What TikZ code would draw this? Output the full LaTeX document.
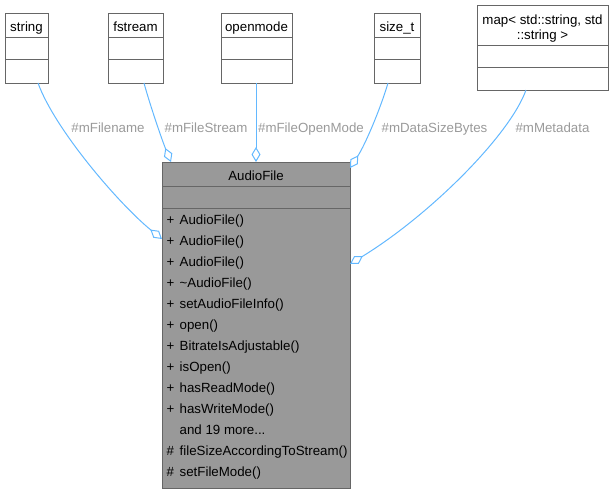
\documentclass[tikz,border=0pt]{standalone}
\usepackage{fontspec}
\setmainfont{Liberation Sans}
\usetikzlibrary{arrows.meta}
\definecolor{edgec}{HTML}{63B8FF}
\definecolor{lblc}{HTML}{9A9A9A}
\definecolor{bordc}{HTML}{666666}
\definecolor{clsc}{HTML}{999999}
\newcommand\moremethods{and 19 more...}
\begin{document}
\begin{tikzpicture}[x=1pt,y=-1pt,
  box/.style={draw=bordc, line width=1pt, inner sep=0pt, outer sep=0pt, anchor=north west},
  divider/.style={draw=bordc, line width=1pt},
  txt/.style={font=\fontsize{13.3}{15}\selectfont, inner sep=0pt, text height=9.5pt, text depth=2.5pt},
  lab/.style={txt, text=lblc},
  agg/.style={draw=edgec, line width=1pt, {Diamond[open,length=15pt,width=9pt]}-}]
\useasboundingbox (0,0) rectangle (614,493);

% small class boxes
\node[box, minimum width=43pt, minimum height=70pt] (string) at (5,13) {};
\draw[divider] (5,37) -- (48,37) (5,59) -- (48,59);
\node[txt] (stringT) at (26.5,27.5) {string};

\node[box, minimum width=55pt, minimum height=70pt] (fstream) at (108,13) {};
\draw[divider] (108,37) -- (163,37) (108,59) -- (163,59);
\node[txt] (fstreamT) at (135.5,27.5) {fstream};

\node[box, minimum width=71pt, minimum height=70pt] (openmode) at (221,13) {};
\draw[divider] (221,37) -- (292,37) (221,59) -- (292,59);
\node[txt] (openmodeT) at (256.5,27.5) {openmode};

\node[box, minimum width=46pt, minimum height=70pt] (sizet) at (374,13) {};
\draw[divider] (374,37) -- (420,37) (374,59) -- (420,59);
\node[txt] (sizetT) at (397,27.5) {size\_t};

\node[box, minimum width=131pt, minimum height=85pt] (map) at (477,5) {};
\draw[divider] (477,45) -- (608,45) (477,67) -- (608,67);
\node[txt] (mapT1) at (542.5,20.5) {map< std::string, std};
\node[txt] (mapT2) at (542.5,35.5) {::string >};

% main class
\node[box, fill=clsc, minimum width=188pt, minimum height=326pt] (audio) at (162,162) {};
\draw[divider] (162,186) -- (350,186) (162,208) -- (350,208);
\node[txt] (audioT) at (256,177) {AudioFile};

\foreach \i/\m/\n in {0/+/AudioFile(), 1/+/AudioFile(), 2/+/AudioFile(), 3/+/{\textasciitilde AudioFile()},
  4/+/setAudioFileInfo(), 5/+/open(), 6/+/BitrateIsAdjustable(), 7/+/isOpen(), 8/+/hasReadMode(),
  9/+/hasWriteMode(), 10/{}/\moremethods, 11/\#/fileSizeAccordingToStream(), 12/\#/setFileMode()} {
  \node[txt, anchor=west] (mk\i) at (166.5,221+21*\i) {\m};
  \node[txt, anchor=west] (mn\i) at (179.5,221+21*\i) {\n};
}

% connection points
\coordinate (pString) at (162,239);
\coordinate (pFstream) at (171,162);
\coordinate (pOpen) at (256,162);
\coordinate (pSize) at (350,168);
\coordinate (pMap) at (350,264);
\coordinate (sString) at (38,83);
\coordinate (sFstream) at (144,83);
\coordinate (sOpen) at (256,83);
\coordinate (sSize) at (388,83);
\coordinate (sMap) at (526,90);

\draw[agg] (pString) .. controls (120,205) and (55,130) .. (sString);
\draw[agg] (pFstream) .. controls (162,140) and (150,105) .. (sFstream);
\draw[agg] (pOpen) -- (sOpen);
\draw[agg] (pSize) .. controls (365,145) and (380,110) .. (sSize);
\draw[agg] (pMap) .. controls (430,215) and (510,135) .. (sMap);

% labels
\node[lab] (l1) at (108,129) {\#mFilename};
\node[lab] (l2) at (206,129) {\#mFileStream};
\node[lab] (l3) at (311,129) {\#mFileOpenMode};
\node[lab] (l4) at (434.5,129) {\#mDataSizeBytes};
\node[lab] (l5) at (552.5,129) {\#mMetadata};
\end{tikzpicture}
\end{document}
